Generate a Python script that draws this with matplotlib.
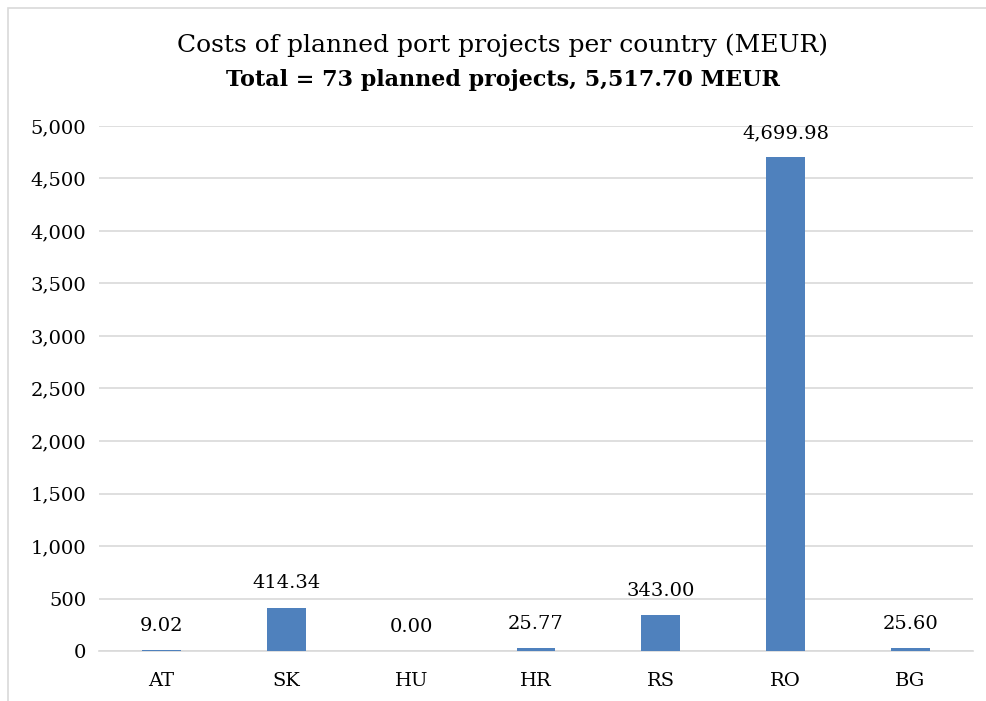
import matplotlib.pyplot as plt
from matplotlib.patches import Rectangle

countries = ["AT", "SK", "HU", "HR", "RS", "RO", "BG"]
costs = [9.02, 414.34, 0.00, 25.77, 343.00, 4699.98, 25.60]
yticks = [0, 500, 1000, 1500, 2000, 2500, 3000, 3500, 4000, 4500, 5000]

plt.rcParams['font.family'] = ['DejaVu Serif']

fig = plt.figure(figsize=(9.86, 7.01), dpi=100)
ax = fig.add_axes([0.1004, 0.0713, 0.8864, 0.749])

# chart border
fig.patches.append(Rectangle((8 / 986, -0.1), 1.2, 1.1 - 8 / 701,
                             transform=fig.transFigure, fill=False,
                             edgecolor='#d9d9d9', linewidth=1.2))

bars = ax.bar(range(len(countries)), costs, width=0.31, color='#4f81bd', zorder=3)
for i, v in enumerate(costs):
    ax.annotate(f"{v:,.2f}", (i, v), xytext=(0, 17.5), textcoords='offset points',
                ha='center', va='center', fontsize=14, color='#000000')

ax.set_xlim(-0.5, len(countries) - 0.5)
ax.set_ylim(0, 5000)
ax.set_yticks(yticks)
ax.set_yticklabels([f"{t:,}" for t in yticks], fontsize=14)
ax.set_xticks(range(len(countries)))
ax.set_xticklabels(countries, fontsize=14)
ax.tick_params(axis='both', length=0)
ax.tick_params(axis='x', pad=15)
ax.tick_params(axis='y', pad=9)
ax.grid(axis='y', color='#d9d9d9', linewidth=1.2, zorder=0)
for s in ['top', 'right', 'left']:
    ax.spines[s].set_visible(False)
ax.spines['bottom'].set_color('#d9d9d9')
ax.spines['bottom'].set_linewidth(1.2)

fig.text(0.51, 1 - 45 / 701, "Costs of planned port projects per country (MEUR)",
         ha='center', va='center', fontsize=18)
fig.text(0.51, 1 - 80 / 701, "Total = 73 planned projects, 5,517.70 MEUR",
         ha='center', va='center', fontsize=16, fontweight='bold')

fig.savefig("out.png", dpi=100)
